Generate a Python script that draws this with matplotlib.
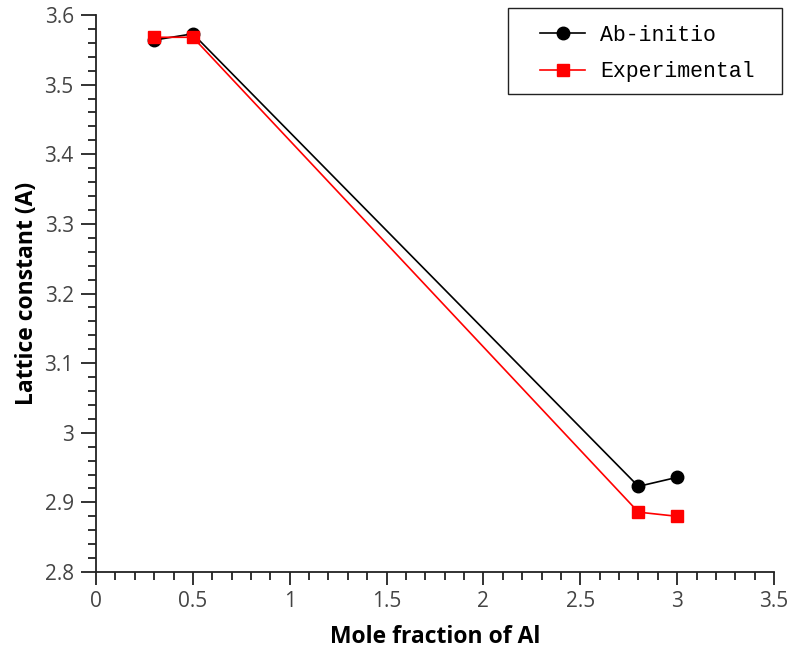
import matplotlib
matplotlib.use('Agg')
import matplotlib.pyplot as plt
from matplotlib.patches import Rectangle
from matplotlib.ticker import MultipleLocator, FuncFormatter

mole_fraction = [0.3, 0.5, 2.8, 3.0]
ab_initio = [3.564, 3.573, 2.923, 2.936]
experimental = [3.568, 3.568, 2.886, 2.880]

plt.rcParams['font.family'] = ['Open Sans', 'DejaVu Sans']

fig = plt.figure(figsize=(7.91, 6.55), dpi=100)
ax = fig.add_axes([0.1214, 0.1267, 0.8571, 0.8504])

ax.plot(mole_fraction, ab_initio, color='black', linewidth=1.2, marker='o',
        markersize=9, label='Ab-initio', zorder=3)
ax.plot(mole_fraction, experimental, color='red', linewidth=1.2, marker='s',
        markersize=9, label='Experimental', zorder=4)

ax.set_xlim(0, 3.5)
ax.set_ylim(2.8, 3.6)
ax.xaxis.set_major_locator(MultipleLocator(0.5))
ax.xaxis.set_minor_locator(MultipleLocator(0.1))
ax.yaxis.set_major_locator(MultipleLocator(0.1))
ax.yaxis.set_minor_locator(MultipleLocator(0.02))
fmt = FuncFormatter(lambda v, p: '%g' % round(v, 3))
ax.xaxis.set_major_formatter(fmt)
ax.yaxis.set_major_formatter(fmt)

for s in ['top', 'right']:
    ax.spines[s].set_visible(False)
for s in ['left', 'bottom']:
    ax.spines[s].set_color('#222222')
    ax.spines[s].set_linewidth(1.3)

ax.tick_params(which='both', direction='out', width=1.3, color='#222222',
               labelsize=15, labelcolor='#444444')
ax.tick_params(axis='x', which='major', length=9, pad=5)
ax.tick_params(axis='x', which='minor', length=6)
ax.tick_params(axis='y', which='major', length=11, pad=5)
ax.tick_params(axis='y', which='minor', length=6)

ax.set_xlabel('Mole fraction of Al', fontsize=16.5, fontweight='bold', labelpad=9)
ax.set_ylabel('Lattice constant (A)', fontsize=16.5, fontweight='bold', labelpad=4)

# legend frame drawn separately so the padding can match the reference
ax.add_patch(Rectangle((508 / 791, 1 - 94 / 655), 274 / 791, 86 / 655,
                       transform=fig.transFigure, facecolor='white',
                       edgecolor='#222222', linewidth=1.0, zorder=5,
                       clip_on=False))
leg = ax.legend(loc='upper left', bbox_to_anchor=(540 / 791, 1 - 25 / 655),
                bbox_transform=fig.transFigure, frameon=False,
                prop={'family': 'Liberation Mono', 'size': 15.5},
                borderpad=0, borderaxespad=0, handlelength=2.1,
                handletextpad=0.7, labelspacing=0.7)
leg.set_zorder(6)

fig.savefig('out.png', dpi=100)
